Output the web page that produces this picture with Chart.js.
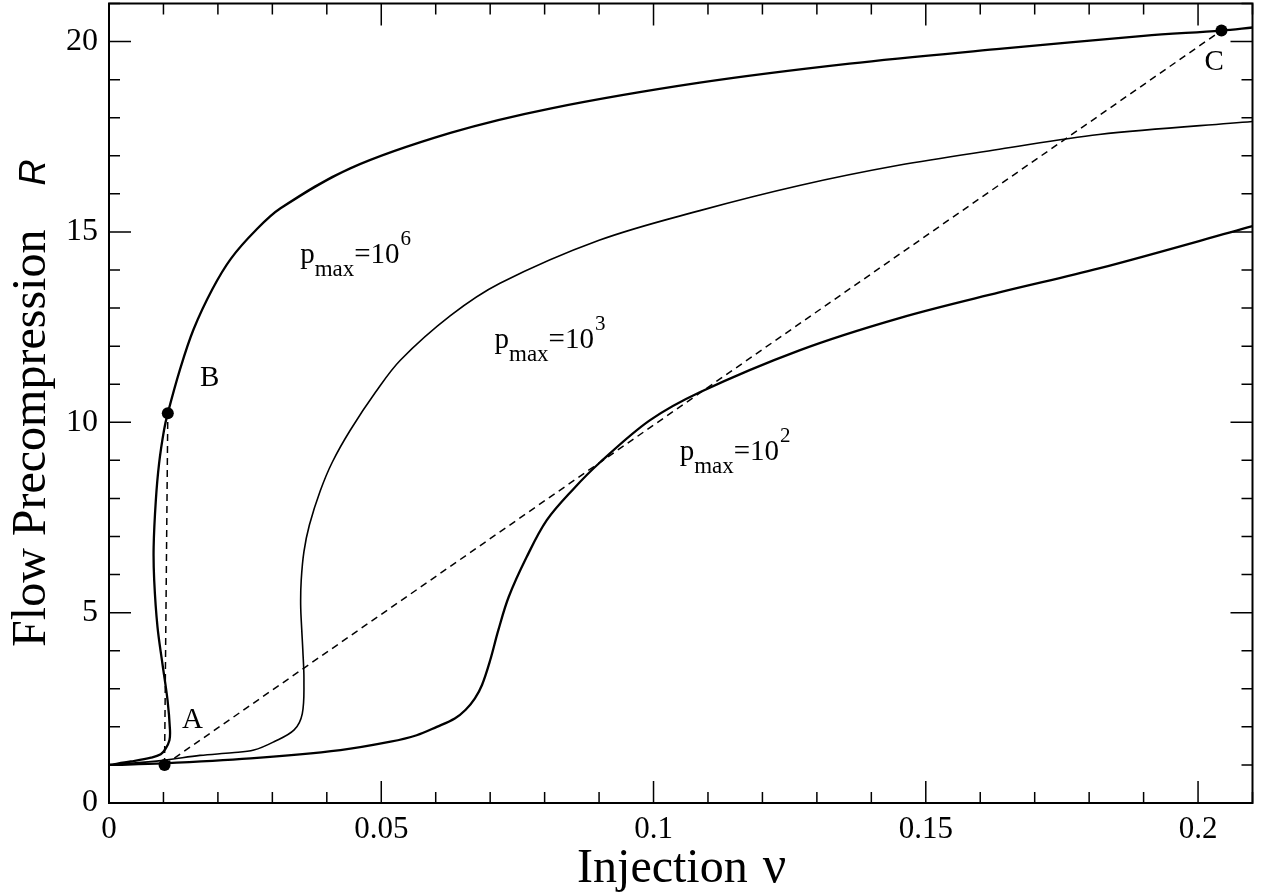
<!DOCTYPE html>
<html>
<head>
<meta charset="utf-8">
<script src="https://cdn.jsdelivr.net/npm/chart.js@4.4.1/dist/chart.umd.min.js"></script>
<style>
html, body { margin: 0; padding: 0; background: #fff; }
canvas { display: block; }
</style>
</head>
<body>
<canvas id="flow-chart" width="1262" height="893"></canvas>
<script>
'use strict';

// curve p_max = 10^6
const nuP6 = [0, 0.004, 0.0077, 0.0095, 0.0104, 0.0111, 0.0112, 0.01075, 0.0098, 0.0089, 0.0083,
    0.0082, 0.0086, 0.0092, 0.0101, 0.0108, 0.013, 0.0155, 0.019, 0.0224, 0.027, 0.0315, 0.0443,
    0.0627, 0.081, 0.1085, 0.136, 0.163, 0.19, 0.2043, 0.21];
const rP6 = [1.0, 1.09, 1.19, 1.28, 1.43, 1.65, 1.92, 2.7, 3.67, 4.63, 5.85,
    6.73, 7.95, 8.92, 9.79, 10.24, 11.37, 12.43, 13.5, 14.3, 15.05, 15.62, 16.67,
    17.6, 18.24, 18.92, 19.42, 19.8, 20.15, 20.29, 20.37];

// curve p_max = 10^3
const nuP3 = [0, 0.01, 0.0167, 0.0226, 0.0266, 0.0303, 0.034, 0.0355, 0.0358, 0.0356, 0.0354,
    0.0352, 0.0353, 0.0358, 0.0368, 0.0388, 0.041, 0.0443, 0.049, 0.0535, 0.0627, 0.0718, 0.09,
    0.1085, 0.1268, 0.145, 0.1635, 0.1818, 0.21];
const rP3 = [1.0, 1.12, 1.25, 1.32, 1.39, 1.61, 1.92, 2.35, 3.23, 4.0, 4.54,
    5.2, 5.85, 6.6, 7.3, 8.2, 8.95, 9.79, 10.8, 11.63, 12.8, 13.65, 14.78,
    15.56, 16.22, 16.75, 17.17, 17.56, 17.9];

// curve p_max = 10^2
const nuP2 = [0, 0.01, 0.026, 0.0425, 0.0517, 0.0565, 0.0602, 0.0635, 0.0655, 0.0672, 0.0685,
    0.070, 0.0715, 0.0734, 0.0767, 0.0804, 0.0853, 0.0902, 0.0993, 0.1085, 0.1268, 0.145,
    0.1635, 0.1818, 0.21];
const rP2 = [1.0, 1.04, 1.17, 1.39, 1.61, 1.78, 2.0, 2.22, 2.45, 2.75, 3.1,
    3.75, 4.54, 5.41, 6.46, 7.43, 8.25, 8.95, 10.05, 10.79, 11.89, 12.73,
    13.41, 14.04, 15.15];

// marked states A, B, C
const pointNames = ['A', 'B', 'C'];
const pointNu = [0.0102, 0.0108, 0.2043];
const pointR = [1.0, 10.24, 20.29];

// where the letters sit (data units)
const letterNu = [0.0134, 0.0167, 0.2012];
const letterR = [1.96, 10.95, 19.26];

// curve labels
const curveExp = ['6', '3', '2'];
const curveLabelNu = [0.0351, 0.0708, 0.1048];
const curveLabelR = [14.18, 11.95, 9.02];

// axes
const xTickValues = [0, 0.05, 0.1, 0.15, 0.2];
const xTickLabels = ['0', '0.05', '0.1', '0.15', '0.2'];
const xMinorValues = [0.01, 0.02, 0.03, 0.04, 0.06, 0.07, 0.08, 0.09, 0.11, 0.12, 0.13, 0.14,
    0.16, 0.17, 0.18, 0.19, 0.21];
const yTickValues = [0, 5, 10, 15, 20];
const yTickLabels = ['0', '5', '10', '15', '20'];
const yMinorValues = [1, 2, 3, 4, 6, 7, 8, 9, 11, 12, 13, 14, 16, 17, 18, 19, 21];

const SERIF = "'Liberation Serif', 'Times New Roman', serif";
const SANS = "'Liberation Sans', Arial, sans-serif";

function toPoints(xs, ys) {
    return xs.map((x, i) => ({ x: x, y: ys[i] }));
}

const curveStyle = {
    showLine: true,
    fill: false,
    pointRadius: 0,
    pointHoverRadius: 0,
    borderColor: '#000',
    tension: 0.35,
};

const dashStyle = {
    showLine: true,
    fill: false,
    pointRadius: 0,
    borderColor: '#000',
    borderWidth: 1.5,
    borderDash: [7, 5],
    tension: 0,
};

const frameAndLabels = {
    id: 'frameAndLabels',
    afterDraw: function (chart) {
        const ctx = chart.ctx;
        const area = chart.chartArea;
        const xs = chart.scales.x;
        const ys = chart.scales.y;

        ctx.save();
        ctx.strokeStyle = '#000';
        ctx.lineWidth = 2;
        ctx.strokeRect(area.left, area.top, area.right - area.left, area.bottom - area.top);

        // inward ticks on all four sides
        ctx.lineWidth = 1.5;
        const tickX = function (v, len) {
            const px = xs.getPixelForValue(v);
            ctx.beginPath();
            ctx.moveTo(px, area.bottom);
            ctx.lineTo(px, area.bottom - len);
            ctx.moveTo(px, area.top);
            ctx.lineTo(px, area.top + len);
            ctx.stroke();
        };
        const tickY = function (v, len) {
            const py = ys.getPixelForValue(v);
            ctx.beginPath();
            ctx.moveTo(area.left, py);
            ctx.lineTo(area.left + len, py);
            ctx.moveTo(area.right, py);
            ctx.lineTo(area.right - len, py);
            ctx.stroke();
        };
        xTickValues.forEach(v => tickX(v, 22));
        xMinorValues.forEach(v => tickX(v, 11));
        yTickValues.forEach(v => tickY(v, 22));
        yMinorValues.forEach(v => tickY(v, 11));

        ctx.fillStyle = '#000';
        ctx.textBaseline = 'alphabetic';
        ctx.textAlign = 'left';

        // A, B, C
        ctx.font = '29px ' + SERIF;
        pointNames.forEach(function (name, i) {
            ctx.fillText(name, xs.getPixelForValue(letterNu[i]), ys.getPixelForValue(letterR[i]));
        });

        // p_max = 10^n labels
        curveExp.forEach(function (exp, i) {
            let x = xs.getPixelForValue(curveLabelNu[i]);
            const y = ys.getPixelForValue(curveLabelR[i]);
            ctx.font = '29px ' + SERIF;
            ctx.fillText('p', x, y);
            x += ctx.measureText('p').width;
            ctx.font = '23px ' + SERIF;
            ctx.fillText('max', x, y + 13);
            x += ctx.measureText('max').width;
            ctx.font = '29px ' + SERIF;
            ctx.fillText('=10', x, y);
            x += ctx.measureText('=10').width;
            ctx.font = '21px ' + SERIF;
            ctx.fillText(exp, x + 1, y - 18);
        });

        // x title
        const midX = (area.left + area.right) / 2;
        ctx.font = '48px ' + SERIF;
        const inj = 'Injection';
        const injW = ctx.measureText(inj).width;
        const nuW = ctx.measureText('\u03bd').width;
        const gapX = 15;
        let tx = midX - (injW + gapX + nuW) / 2;
        ctx.fillText(inj, tx, 882);
        ctx.font = '52px ' + SERIF;
        ctx.fillText('\u03bd', tx + injW + gapX, 882);

        // y title, rotated
        const midY = (area.top + area.bottom) / 2;
        ctx.translate(45, midY);
        ctx.rotate(-Math.PI / 2);
        ctx.font = '48px ' + SERIF;
        const flow = 'Flow Precompression';
        const flowW = ctx.measureText(flow).width;
        ctx.font = 'italic 36px ' + SANS;
        const rW = ctx.measureText('R').width;
        const gapY = 44;
        const ty = -(flowW + gapY + rW) / 2;
        ctx.font = '48px ' + SERIF;
        ctx.fillText(flow, ty, 0);
        ctx.font = 'italic 36px ' + SANS;
        ctx.fillText('R', ty + flowW + gapY, 0);
        ctx.restore();
    },
};

const ctx = document.getElementById('flow-chart').getContext('2d');

window.flowChart = new Chart(ctx, {
    type: 'scatter',
    data: {
        datasets: [
            Object.assign({ data: toPoints(nuP6, rP6), borderWidth: 2.3 }, curveStyle),
            Object.assign({ data: toPoints(nuP3, rP3), borderWidth: 1.6 }, curveStyle),
            Object.assign({ data: toPoints(nuP2, rP2), borderWidth: 2.3 }, curveStyle),
            Object.assign({ data: toPoints([pointNu[0], pointNu[1]], [pointR[0], pointR[1]]) }, dashStyle),
            Object.assign({ data: toPoints([pointNu[0], pointNu[2]], [pointR[0], pointR[2]]) }, dashStyle),
            {
                data: toPoints(pointNu, pointR),
                showLine: false,
                pointRadius: 6,
                pointHoverRadius: 6,
                pointBackgroundColor: '#000',
                pointBorderColor: '#000',
                pointBorderWidth: 0,
            },
        ],
    },
    options: {
        responsive: false,
        animation: false,
        events: [],
        layout: {
            autoPadding: false,
            padding: { left: 0, top: 3.5, right: 9.5, bottom: 0 },
        },
        plugins: {
            legend: { display: false },
            tooltip: { enabled: false },
        },
        scales: {
            x: {
                type: 'linear',
                min: 0,
                max: 0.21,
                afterBuildTicks: function (scale) {
                    scale.ticks = xTickValues.map(v => ({ value: v }));
                },
                afterFit: function (scale) {
                    scale.height = 90;
                    scale.paddingLeft = 0;
                    scale.paddingRight = 0;
                },
                grid: { display: false, drawTicks: false },
                border: { display: false },
                ticks: {
                    autoSkip: false,
                    maxRotation: 0,
                    padding: 8,
                    color: '#000',
                    font: { family: SERIF, size: 31 },
                    callback: (value, index) => xTickLabels[index],
                },
            },
            y: {
                type: 'linear',
                min: 0,
                max: 21,
                afterBuildTicks: function (scale) {
                    scale.ticks = yTickValues.map(v => ({ value: v }));
                },
                afterFit: function (scale) {
                    scale.width = 109;
                    scale.paddingTop = 0;
                    scale.paddingBottom = 0;
                },
                grid: { display: false, drawTicks: false },
                border: { display: false },
                ticks: {
                    autoSkip: false,
                    padding: 11,
                    color: '#000',
                    font: { family: SERIF, size: 32 },
                    callback: (value, index) => yTickLabels[index],
                },
            },
        },
    },
    plugins: [frameAndLabels],
});
</script>
</body>
</html>
